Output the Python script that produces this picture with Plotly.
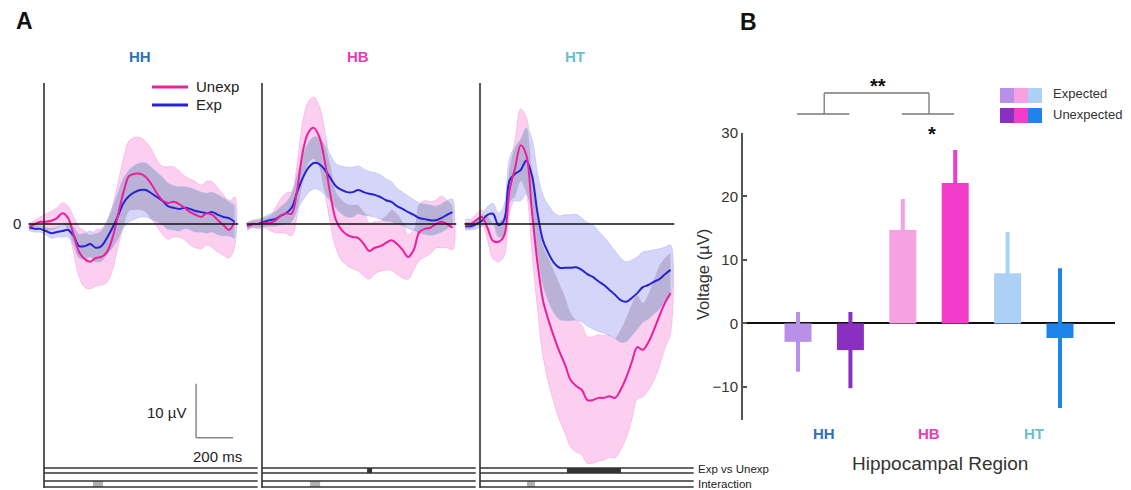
import numpy as np
import plotly.graph_objects as go

# ---------------- data ----------------
time_ms = [-80, -50, -20, 10, 40, 70, 100, 130, 160, 190, 220, 250, 280, 310, 340, 370,
           400, 430, 460, 490, 520, 550, 580, 610, 640, 670, 700, 730, 760, 790, 820,
           850, 880, 910, 940, 970, 1000, 1030]

hh_unexp_mean = [-0.6, 0, 0.4, 0.4, 0.6, 1.1, 2.0, 1.1, -2.0, -5.2, -6.5, -7.0, -6.3, -6.1, -5.2, -2.6,
                 1.7, 5.9, 8.9, 9.3, 9.3, 8.7, 7.4, 5.7, 4.4, 3.9, 4.1, 3.7, 3.0, 2.2, 1.7,
                 1.3, 2.0, 1.7, 0.7, -0.2, -1.1, 0.4]
hh_unexp_sem = [0.7, 0.7, 0.9, 1.5, 1.7, 1.9, 1.9, 2.2, 3.3, 4.6, 5.2, 5.0, 5.2, 5.2, 5.6, 5.9,
                5.9, 6.3, 6.5, 6.7, 6.7, 6.5, 6.5, 6.1, 6.3, 6.7, 6.5, 6.1, 5.9, 6.1, 6.1,
                5.9, 5.9, 6.1, 5.9, 5.6, 5.2, 4.6]
hh_exp_mean = [-0.6, -0.9, -0.9, -1.3, -1.7, -1.5, -1.3, -1.1, -2.2, -4.1, -4.1, -3.7, -4.4, -4.1, -2.6, -0.7,
               1.5, 3.9, 5.2, 5.9, 6.3, 6.3, 5.7, 5.0, 4.3, 3.3, 3.0, 2.8, 3.0, 2.8, 2.4,
               2.2, 2.0, 2.2, 1.7, 1.3, 1.1, 0.4]
hh_exp_sem = [0.6, 0.6, 0.6, 0.7, 0.9, 0.9, 1.1, 1.3, 1.7, 2.2, 2.4, 2.4, 2.6, 2.8, 3.1, 3.7,
              4.3, 4.6, 4.8, 5.0, 5.0, 5.0, 4.8, 4.6, 4.4, 4.3, 4.1, 4.1, 3.9, 3.9, 3.9,
              3.7, 3.7, 3.7, 3.7, 3.5, 3.3, 3.0]

hb_unexp_mean = [-0.4, 0, 0, 0.2, 0.2, 0.6, 1.5, 2.0, 1.9, 6.3, 13.3, 16.9, 17.8, 16.1, 11.5, 5.4,
                 0.7, -1.1, -2.0, -2.4, -2.6, -3.7, -5.0, -4.4, -4.1, -3.5, -3.0, -3.7, -4.8, -6.1, -4.8,
                 -1.5, -0.9, -0.7, 0, 0.4, 0, -0.7]
hb_unexp_sem = [0.7, 0.7, 0.9, 0.9, 1.3, 2.2, 3.1, 3.7, 4.1, 4.8, 5.6, 5.7, 5.7, 5.7, 5.6, 5.4,
                5.2, 5.6, 5.7, 5.9, 6.1, 5.9, 5.2, 4.8, 4.6, 5.0, 5.6, 5.6, 5.2, 4.1, 3.7,
                5.2, 5.2, 4.8, 4.4, 4.8, 4.4, 4.1]
hb_exp_mean = [-0.4, 0, 0, 0.4, 0.7, 0.9, 1.5, 2.0, 3.0, 5.9, 8.5, 10.4, 11.3, 11.1, 10.0, 8.5,
               7.0, 6.3, 5.9, 5.9, 6.3, 5.9, 5.6, 5.4, 5.0, 4.4, 4.1, 3.3, 2.8, 2.2, 1.7,
               1.1, 0.9, 0.7, 0.7, 1.1, 1.7, 2.2]
hb_exp_sem = [0.6, 0.6, 0.7, 0.9, 1.1, 1.3, 1.7, 2.0, 2.6, 3.3, 4.1, 4.6, 4.8, 4.8, 4.6, 4.3,
              4.1, 4.4, 4.6, 4.6, 4.4, 4.3, 4.1, 4.1, 4.1, 3.9, 3.7, 3.3, 3.1, 3.0, 2.8,
              2.8, 2.8, 2.8, 2.6, 2.6, 2.6, 2.4]

ht_unexp_mean = [0, 0, 0.7, 1.3, -0.7, -3.1, -3.3, -2.2, 6.3, 10.4, 14.6, 12.8, 2.6, -7.0, -14.1, -17.8,
                 -20.9, -23.7, -26.1, -28.9, -30.0, -30.7, -32.6, -32.6, -32.2, -32.2, -31.9, -32.2, -30.7, -28.5, -25.6,
                 -22.8, -23.3, -21.9, -19.6, -17.0, -14.6, -12.8]
ht_unexp_sem = [0.9, 0.9, 1.1, 1.3, 2.2, 3.3, 3.7, 3.7, 4.1, 5.2, 6.7, 7.0, 7.4, 8.3, 10.2, 11.5,
                12.2, 12.6, 12.6, 12.4, 12.2, 12.0, 11.7, 11.7, 11.7, 11.5, 11.3, 11.1, 11.1, 11.1, 10.7,
                9.6, 8.7, 8.9, 9.3, 9.3, 8.3, 7.4]
ht_exp_mean = [-0.4, -0.4, 0, 0.6, 1.7, 1.9, -0.2, 0.7, 8.1, 9.3, 10.0, 11.7, 9.1, 2.2, -3.0, -5.4,
               -7.2, -8.1, -8.1, -8.1, -8.0, -8.5, -9.3, -9.8, -10.6, -11.3, -12.2, -13.1, -14.1, -14.4, -13.7,
               -12.8, -11.7, -11.3, -10.7, -10.2, -9.3, -8.5]
ht_exp_sem = [0.7, 0.7, 0.9, 1.1, 1.5, 1.9, 2.2, 2.8, 4.1, 5.0, 5.7, 6.1, 6.7, 7.4, 8.3, 8.9,
              9.3, 9.6, 9.8, 9.8, 9.8, 9.6, 9.6, 9.6, 9.3, 8.9, 8.5, 8.1, 7.8, 7.4, 7.0,
              6.7, 6.5, 6.3, 5.9, 5.6, 5.0, 4.6]

# significant time windows (ms)
sig_exp_vs_unexp = {"HH": [], "HB": [(568, 595)], "HT": [(470, 762)]}
sig_interaction = {"HH": [(265, 319)], "HB": [(260, 314)], "HT": [(254, 297)]}

# panel B
regions = ["HH", "HB", "HT"]
region_colors = ["#2b72b8", "#e83cb4", "#6bbfc7"]
exp_mean = [-2.9, 14.7, 7.9]
exp_sem = [4.7, 4.9, 6.5]
unexp_mean = [-4.2, 22.1, -2.3]
unexp_sem = [6.0, 5.2, 11.0]
exp_colors = ["#b890e8", "#f7a0e2", "#acd0f6"]
unexp_colors = ["#8a30c0", "#f43ccb", "#1f84ea"]

# ---------------- helpers ----------------
W, H = 1131, 490
FONT = "Liberation Sans, Arial, sans-serif"
def fx(p):
    return p / W
def fy(p):
    return 1 - p / H

PINK = "#ec1e9c"
BLUE = "#2424d2"
PINK_BAND = "rgb(252,207,240)"
PINK_EDGE = "rgb(246,180,226)"
BLUE_BAND = "rgb(212,213,248)"
BLUE_EDGE = "rgb(196,196,242)"
OVER_BAND = "rgb(186,178,214)"

fig = go.Figure()
panel_data = [
    ("HH", hh_unexp_mean, hh_unexp_sem, hh_exp_mean, hh_exp_sem),
    ("HB", hb_unexp_mean, hb_unexp_sem, hb_exp_mean, hb_exp_sem),
    ("HT", ht_unexp_mean, ht_unexp_sem, ht_exp_mean, ht_exp_sem),
]
ax_suffix = ["", "2", "3"]
x_dom_px = [(28, 262), (246, 480), (464, 698)]
XR = [-86.5, 1178.4]
YR = [(224 - 490) / 5.4, (224 - 83) / 5.4]

t = np.array(time_ms, dtype=float)
shapes = []
annotations = []

for i, (name, um, us, em, es) in enumerate(panel_data):
    xa = "x" + ax_suffix[i]
    ya = "y" + ax_suffix[i]
    um, us, em, es = map(np.array, (um, us, em, es))
    bands = [(um + us, um - us, PINK_BAND, PINK_EDGE), (em + es, em - es, BLUE_BAND, BLUE_EDGE)]
    for hi, lo, fc, ec in bands:
        fig.add_trace(go.Scatter(
            x=np.concatenate([t, t[::-1]]), y=np.concatenate([hi, lo[::-1]]),
            fill="toself", fillcolor=fc, mode="lines",
            line=dict(color=ec, width=0.8, shape="spline"),
            hoverinfo="skip", showlegend=False, xaxis=xa, yaxis=ya))
    ov_lo = np.maximum(um - us, em - es)
    ov_hi = np.maximum(np.minimum(um + us, em + es), ov_lo)
    fig.add_trace(go.Scatter(x=t, y=ov_lo, mode="lines", line=dict(width=0, shape="spline"),
                             hoverinfo="skip", showlegend=False, xaxis=xa, yaxis=ya))
    fig.add_trace(go.Scatter(x=t, y=ov_hi, mode="lines", line=dict(width=0, shape="spline"),
                             fill="tonexty", fillcolor=OVER_BAND,
                             hoverinfo="skip", showlegend=False, xaxis=xa, yaxis=ya))
    fig.add_trace(go.Scatter(x=t, y=em, mode="lines", line=dict(color=BLUE, width=2, shape="spline"),
                             showlegend=False, xaxis=xa, yaxis=ya))
    fig.add_trace(go.Scatter(x=t, y=um, mode="lines", line=dict(color=PINK, width=2, shape="spline"),
                             showlegend=False, xaxis=xa, yaxis=ya))

    # zero line and time-zero axis
    shapes.append(dict(type="line", xref=xa, yref=ya, x0=-84, x1=1050, y0=0, y1=0,
                       line=dict(color="#111", width=1.3), layer="above"))
    shapes.append(dict(type="line", xref=xa, yref="paper", x0=0, x1=0, y0=fy(488), y1=fy(83),
                       line=dict(color="#222", width=1.5), layer="above"))
    # significance strips
    for a, b in sig_exp_vs_unexp[name]:
        shapes.append(dict(type="rect", xref=xa, yref="paper", x0=a, x1=b, y0=fy(473), y1=fy(468),
                           fillcolor="#333", line=dict(width=0), layer="above"))
    for a, b in sig_interaction[name]:
        shapes.append(dict(type="rect", xref=xa, yref="paper", x0=a, x1=b, y0=fy(487), y1=fy(481),
                           fillcolor="#b0b0b0", line=dict(width=0), layer="above"))
    for yy in (468, 473, 481, 487):
        shapes.append(dict(type="line", xref=xa, yref="paper", x0=0, x1=1155, y0=fy(yy), y1=fy(yy),
                           line=dict(color="#333", width=1.6), layer="above"))

# scale bar (HH panel)
shapes.append(dict(type="line", xref="x", yref="y", x0=822, x1=822, y0=-39.6, y1=-29.6,
                   line=dict(color="#888", width=1.5)))
shapes.append(dict(type="line", xref="x", yref="y", x0=822, x1=1022, y0=-39.6, y1=-39.6,
                   line=dict(color="#888", width=1.5)))
annotations.append(dict(text="10 µV", x=fx(189), y=fy(412), xref="paper", yref="paper",
                        xanchor="right", yanchor="middle", showarrow=False,
                        font=dict(family=FONT, size=15, color="#222")))
annotations.append(dict(text="200 ms", x=fx(217), y=fy(456), xref="paper", yref="paper",
                        xanchor="center", yanchor="middle", showarrow=False,
                        font=dict(family=FONT, size=15, color="#222")))

# panel A legend
for yy, col, lab in ((87, PINK, "Unexp"), (105, BLUE, "Exp")):
    shapes.append(dict(type="line", xref="paper", yref="paper", x0=fx(152), x1=fx(188),
                       y0=fy(yy), y1=fy(yy), line=dict(color=col, width=3)))
    annotations.append(dict(text=lab, x=fx(194), y=fy(yy - 1), xref="paper", yref="paper",
                            xanchor="left", yanchor="middle", showarrow=False,
                            font=dict(family=FONT, size=15, color="#222")))

# panel A titles
for (name, col), cx in zip(zip(regions, region_colors), (140, 358, 575)):
    annotations.append(dict(text="<b>%s</b>" % name, x=fx(cx), y=fy(57), xref="paper", yref="paper",
                            xanchor="center", yanchor="middle", showarrow=False,
                            font=dict(family=FONT, size=15, color=col)))

annotations.append(dict(text="0", x=fx(23), y=fy(224), xref="paper", yref="paper",
                        xanchor="right", yanchor="middle", showarrow=False,
                        font=dict(family=FONT, size=15, color="#222")))
annotations.append(dict(text="Exp vs Unexp", x=fx(696), y=fy(469), xref="paper", yref="paper",
                        xanchor="left", yanchor="middle", showarrow=False,
                        font=dict(family=FONT, size=11.5, color="#222")))
annotations.append(dict(text="Interaction", x=fx(696), y=fy(484), xref="paper", yref="paper",
                        xanchor="left", yanchor="middle", showarrow=False,
                        font=dict(family=FONT, size=11.5, color="#222")))
annotations.append(dict(text="<b>A</b>", x=fx(24), y=fy(21), xref="paper", yref="paper",
                        xanchor="center", yanchor="middle", showarrow=False,
                        font=dict(family=FONT, size=23, color="#111")))
annotations.append(dict(text="<b>B</b>", x=fx(748), y=fy(22), xref="paper", yref="paper",
                        xanchor="center", yanchor="middle", showarrow=False,
                        font=dict(family=FONT, size=23, color="#111")))

# ---------------- panel B bars ----------------
BAR_W = 0.515
for i in range(3):
    for j, (m, s, c) in enumerate(((exp_mean[i], exp_sem[i], exp_colors[i]),
                                   (unexp_mean[i], unexp_sem[i], unexp_colors[i]))):
        fig.add_trace(go.Bar(x=[2 * i + j], y=[m], width=BAR_W, marker=dict(color=c, line=dict(width=0)),
                             error_y=dict(type="data", array=[s], color=c, thickness=4, width=0),
                             showlegend=False, xaxis="x4", yaxis="y4"))
    annotations.append(dict(text="<b>%s</b>" % regions[i], x=2 * i + 0.5, y=fy(433), xref="x4", yref="paper",
                            xanchor="center", yanchor="middle", showarrow=False,
                            font=dict(family=FONT, size=15, color=region_colors[i])))

annotations.append(dict(text="Hippocampal Region", x=fx(940), y=fy(463), xref="paper", yref="paper",
                        xanchor="center", yanchor="middle", showarrow=False,
                        font=dict(family=FONT, size=19, color="#333")))
annotations.append(dict(text="Voltage (µV)", x=fx(703), y=fy(275), xref="paper", yref="paper",
                        xanchor="center", yanchor="middle", showarrow=False, textangle=-90,
                        font=dict(family=FONT, size=16.5, color="#333")))

# significance brackets
BR = dict(color="#777", width=1.3)
for a, b in ((0, 1), (2, 3)):
    shapes.append(dict(type="line", xref="x4", yref="paper", x0=a - 0.02, x1=b - 0.02,
                       y0=fy(114), y1=fy(114), line=BR))
for mid in (0.5, 2.5):
    shapes.append(dict(type="line", xref="x4", yref="paper", x0=mid, x1=mid,
                       y0=fy(114), y1=fy(93), line=BR))
shapes.append(dict(type="line", xref="x4", yref="paper", x0=0.5, x1=2.5, y0=fy(93), y1=fy(93), line=BR))
annotations.append(dict(text="<b>**</b>", x=1.53, y=fy(86), xref="x4", yref="paper",
                        xanchor="center", yanchor="middle", showarrow=False,
                        font=dict(family=FONT, size=20, color="#111")))
annotations.append(dict(text="<b>*</b>", x=2.56, y=fy(134), xref="x4", yref="paper",
                        xanchor="center", yanchor="middle", showarrow=False,
                        font=dict(family=FONT, size=20, color="#111")))

# panel B legend swatches
for k in range(3):
    x0 = 1000 + 14 * k
    shapes.append(dict(type="rect", xref="paper", yref="paper", x0=fx(x0), x1=fx(x0 + 14),
                       y0=fy(103), y1=fy(88), fillcolor=exp_colors[k], line=dict(width=0)))
    shapes.append(dict(type="rect", xref="paper", yref="paper", x0=fx(x0), x1=fx(x0 + 14),
                       y0=fy(123), y1=fy(108), fillcolor=unexp_colors[k], line=dict(width=0)))
annotations.append(dict(text="Expected", x=fx(1051), y=fy(94), xref="paper", yref="paper",
                        xanchor="left", yanchor="middle", showarrow=False,
                        font=dict(family=FONT, size=13, color="#333")))
annotations.append(dict(text="Unexpected", x=fx(1051), y=fy(114), xref="paper", yref="paper",
                        xanchor="left", yanchor="middle", showarrow=False,
                        font=dict(family=FONT, size=13, color="#333")))

# ---------------- layout ----------------
layout = dict(
    width=W, height=H, margin=dict(l=0, r=0, t=0, b=0, pad=0, autoexpand=False),
    paper_bgcolor="white", plot_bgcolor="rgba(0,0,0,0)",
    showlegend=False, barmode="overlay",
    shapes=shapes, annotations=annotations,
    font=dict(family=FONT),
)
for i, s in enumerate(ax_suffix):
    a, b = x_dom_px[i]
    layout["xaxis" + s] = dict(domain=[fx(a), fx(b)], range=XR, visible=False, anchor="y" + s,
                               fixedrange=True, automargin=False)
    layout["yaxis" + s] = dict(domain=[fy(490), fy(83)], range=YR, visible=False, anchor="x" + s,
                               fixedrange=True, automargin=False)
layout["xaxis4"] = dict(domain=[fx(743), fx(1115)], range=[-1.05, 6.05], visible=False, anchor="y4",
                        automargin=False)
layout["yaxis4"] = dict(domain=[fy(420), fy(132.8)], range=[-15.2, 30], anchor="x4", automargin=False,
                        showline=True, linecolor="#555", linewidth=2, ticks="inside", ticklen=4,
                        tickwidth=1.5, tickcolor="#555", tickvals=[-10, 0, 10, 20, 30],
                        tickfont=dict(family=FONT, size=15, color="#333"),
                        showgrid=False, zeroline=True, zerolinecolor="#111", zerolinewidth=1.5)
fig.update_layout(**layout)
fig.write_html("out.html")
